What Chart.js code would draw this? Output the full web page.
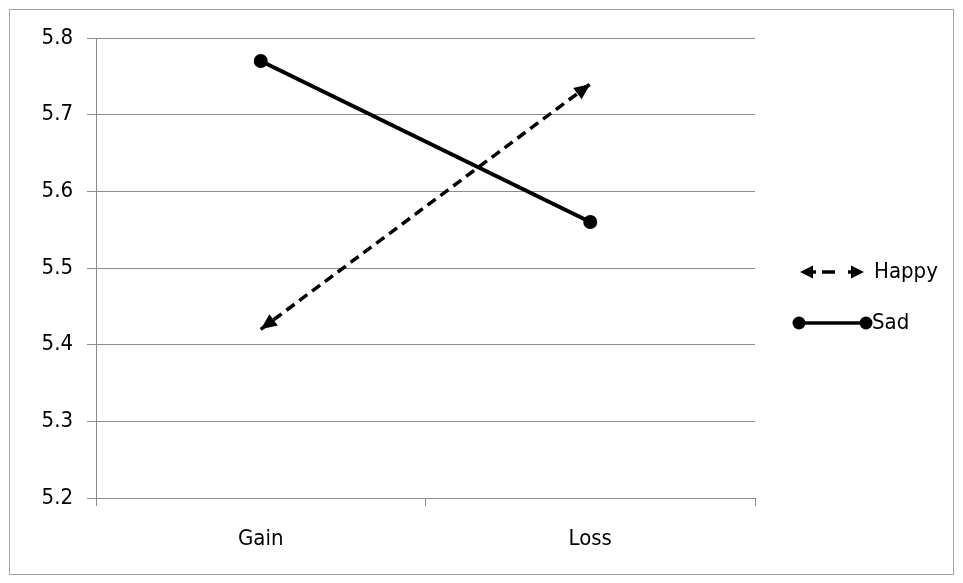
<!DOCTYPE html>
<html><head><meta charset="utf-8">
<script src="https://cdn.jsdelivr.net/npm/chart.js@4/dist/chart.umd.min.js"></script>
<style>html,body{margin:0;padding:0;background:#fff}#wrap{width:963px;height:583px;position:relative}</style>
</head><body><div id="wrap"><canvas id="c" width="963" height="583"></canvas></div>
<script>
const categories = ['Gain', 'Loss'];
const happyValues = [5.42, 5.74];
const sadValues = [5.77, 5.56];
const yTicks = [5.2, 5.3, 5.4, 5.5, 5.6, 5.7, 5.8];
const seriesNames = ['Happy', 'Sad'];

const FONT = '"DejaVu Sans Condensed", "Liberation Sans Narrow", "Liberation Sans", sans-serif';
const GRID = '#8c8c8c';
const FSIZE = 22;

function drawArrow(ctx, tipX, tipY, fromX, fromY, len, half) {
  const ang = Math.atan2(tipY - fromY, tipX - fromX);
  ctx.save();
  ctx.translate(tipX, tipY);
  ctx.rotate(ang);
  ctx.beginPath();
  ctx.moveTo(0, 0);
  ctx.lineTo(-len, -half);
  ctx.lineTo(-len, half);
  ctx.closePath();
  ctx.fillStyle = '#000';
  ctx.fill();
  ctx.restore();
}

const framePlugin = {
  id: 'frame',
  beforeDraw(chart) {
    const ctx = chart.ctx;
    ctx.save();
    ctx.fillStyle = '#fff';
    ctx.fillRect(0, 0, chart.width, chart.height);
    ctx.strokeStyle = '#a6a6a6';
    ctx.lineWidth = 1;
    ctx.strokeRect(9.5, 9.5, 944, 565);
    ctx.restore();
  }
};

const arrowPlugin = {
  id: 'arrows',
  afterDatasetsDraw(chart) {
    const ctx = chart.ctx;
    chart.data.datasets.forEach((ds, i) => {
      if (!ds.arrows) return;
      const pts = chart.getDatasetMeta(i).data;
      if (pts.length < 2) return;
      const n = pts.length;
      drawArrow(ctx, pts[0].x, pts[0].y, pts[1].x, pts[1].y, 16, 7);
      drawArrow(ctx, pts[n - 1].x, pts[n - 1].y, pts[n - 2].x, pts[n - 2].y, 16, 7);
    });
  }
};

const legendPlugin = {
  id: 'customLegend',
  afterDraw(chart) {
    const ctx = chart.ctx;
    ctx.save();
    ctx.font = FSIZE + 'px ' + FONT;
    ctx.textBaseline = 'middle';
    chart.data.datasets.forEach((ds, i) => {
      const y = i === 0 ? 272 : 323;
      ctx.strokeStyle = '#000';
      ctx.lineWidth = 3.5;
      ctx.setLineDash([]);
      if (ds.arrows) {
        const x0 = 800, x1 = 864;
        ctx.beginPath();
        ctx.moveTo(x0 + 10, y); ctx.lineTo(x0 + 16, y);
        ctx.moveTo(x0 + 22, y); ctx.lineTo(x0 + 35, y);
        ctx.moveTo(x1 - 16, y); ctx.lineTo(x1 - 10, y);
        ctx.stroke();
        drawArrow(ctx, x0, y, x1, y, 13, 6.5);
        drawArrow(ctx, x1, y, x0, y, 13, 6.5);
        ctx.fillStyle = '#000';
        ctx.fillText(ds.label, 874, y);
      } else {
        const x0 = 799, x1 = 866;
        ctx.beginPath();
        ctx.moveTo(x0, y);
        ctx.lineTo(x1, y);
        ctx.stroke();
        ctx.fillStyle = '#000';
        [x0, x1].forEach(px => { ctx.beginPath(); ctx.arc(px, y, 6.5, 0, Math.PI * 2); ctx.fill(); });
        ctx.fillText(ds.label, 872, y);
      }
    });
    ctx.restore();
  }
};

new Chart(document.getElementById('c'), {
  type: 'line',
  data: {
    labels: categories,
    datasets: [
      {
        label: seriesNames[0],
        data: happyValues,
        borderColor: '#000',
        borderWidth: 3.5,
        borderDash: [10, 6],
        pointRadius: 0,
        pointHoverRadius: 0,
        fill: false,
        tension: 0,
        arrows: true
      },
      {
        label: seriesNames[1],
        data: sadValues,
        borderColor: '#000',
        borderWidth: 4,
        pointRadius: 7,
        pointBackgroundColor: '#000',
        pointBorderColor: '#000',
        pointBorderWidth: 0,
        fill: false,
        tension: 0
      }
    ]
  },
  options: {
    responsive: false,
    animation: false,
    devicePixelRatio: 1,
    layout: { padding: { left: 0, right: 208, top: 38, bottom: 0 } },
    plugins: { legend: { display: false }, tooltip: { enabled: false } },
    scales: {
      x: {
        offset: true,
        grid: { offset: true, drawOnChartArea: false, drawTicks: true, tickLength: 8, color: GRID, lineWidth: 1 },
        border: { display: true, color: GRID, width: 1 },
        ticks: { color: '#000', font: { family: FONT, size: FSIZE }, padding: 20 },
        afterFit(scale) { scale.height = 85; }
      },
      y: {
        min: 5.2,
        max: 5.8,
        afterBuildTicks(scale) { scale.ticks = yTicks.map(v => ({ value: v })); },
        grid: { color: GRID, lineWidth: 1, tickLength: 9, drawTicks: true },
        border: { display: true, color: GRID, width: 1 },
        ticks: { color: '#000', font: { family: FONT, size: FSIZE }, padding: 14, callback: v => Number(v).toFixed(1) },
        afterFit(scale) { scale.width = 96; }
      }
    }
  },
  plugins: [framePlugin, arrowPlugin, legendPlugin]
});
</script>
</body></html>
